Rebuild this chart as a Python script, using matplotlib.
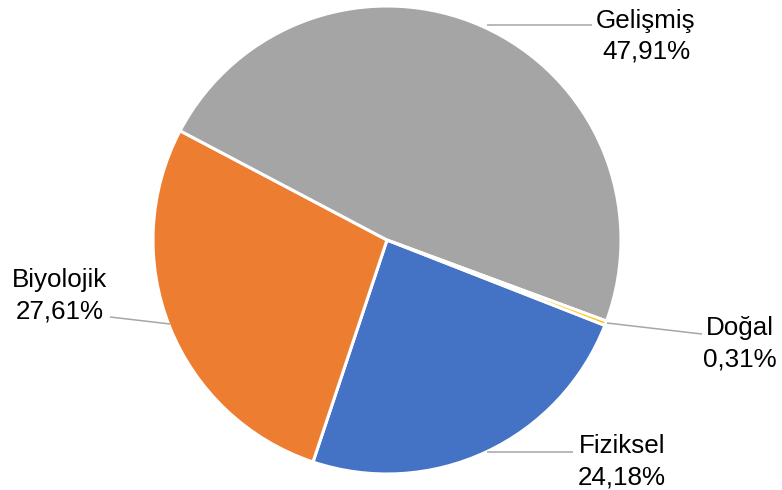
import matplotlib.pyplot as plt

categories = ['Fiziksel', 'Biyolojik', 'Gelişmiş', 'Doğal']
shares = [24.18, 27.61, 47.91, 0.31]
colors = ['#4472C4', '#ED7D31', '#A5A5A5', '#FFC000']

W, H = 782, 490
plt.rcParams['font.family'] = ['Liberation Sans', 'DejaVu Sans']

fig = plt.figure(figsize=(W / 100, H / 100), dpi=100)
ax = fig.add_axes([0, 0, 1, 1])

ax.pie(shares, colors=colors, center=(387, H - 240), radius=234,
       startangle=-21.4, counterclock=False,
       wedgeprops=dict(edgecolor='white', linewidth=2.2))

# pie() resets the limits, so work in pixel units afterwards
ax.set_xlim(0, W)
ax.set_ylim(0, H)
ax.set_aspect('equal')
ax.axis('off')

# label text position (center x, first baseline y) and leader line, in pixels from top-left
label_pos = {
    'Fiziksel': (622, 453, [(487, 452), (573, 452)]),
    'Biyolojik': (60, 287, [(110, 317), (170, 324)]),
    'Gelişmiş': (646, 28, [(487, 25), (592, 25)]),
    'Doğal': (740, 335, [(607, 323), (693, 333), (702, 334)]),
}

for name, val in zip(categories, shares):
    cx, by, line = label_pos[name]
    xs = [p[0] for p in line]
    ys = [H - p[1] for p in line]
    ax.plot(xs, ys, color='#A6A6A6', lw=1.1, solid_capstyle='butt')
    pct = f'{val:.2f}%'.replace('.', ',')
    ax.text(cx, H - by, name, ha='center', va='baseline', fontsize=18.7, color='black')
    ax.text(cx, H - by - 31, pct, ha='center', va='baseline', fontsize=18.7, color='black')

fig.savefig('out.png', dpi=100)
